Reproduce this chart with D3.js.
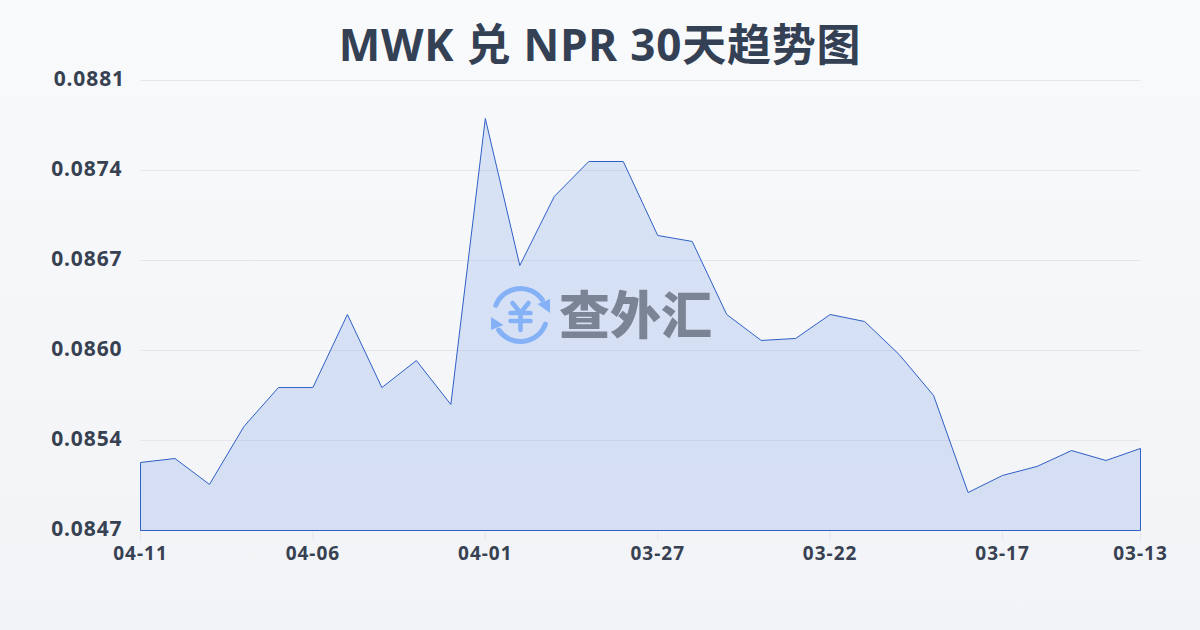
<!DOCTYPE html>
<html><head><meta charset="utf-8">
<script src="https://cdn.jsdelivr.net/npm/d3@7/dist/d3.min.js"></script>
<style>
html,body{margin:0;padding:0;width:1200px;height:630px;overflow:hidden}
svg{display:block}
</style></head><body>
<svg id="c" width="1200" height="630"></svg>
<script>
const titleText = "MWK 兑 NPR 30天趋势图";
const dates = ["04-11","04-10","04-09","04-08","04-07","04-06","04-05","04-04","04-03","04-02","04-01","03-31","03-30","03-29","03-28","03-27","03-26","03-25","03-24","03-23","03-22","03-21","03-20","03-19","03-18","03-17","03-16","03-15","03-14","03-13"];
const rates = [.085214,.085244,.085048,.085486,.08578,.08578,.086332,.08578,.085984,.085652,.087813,.086702,.087224,.087488,.087488,.086929,.086884,.086332,.086136,.086151,.086332,.086279,.08603,.08572,.084987,.085116,.085184,.085304,.085229,.08532];
const yTicks = [.0847,.08538,.08606,.08674,.08742,.0881];
const yTickLabels = ["0.0847","0.0854","0.0860","0.0867","0.0874","0.0881"];
const xTickLabels = ["04-11","04-06","04-01","03-27","03-22","03-17","03-13"];
const brand = "查外汇";

const svg = d3.select("#c");
const font = "'Noto Sans','Noto Sans CJK SC',sans-serif";
const defs = svg.append("defs");
const bg = defs.append("linearGradient").attr("id","bg").attr("x1",0).attr("y1",0).attr("x2",0).attr("y2",1);
bg.append("stop").attr("offset",0).attr("stop-color","#f8fafc");
bg.append("stop").attr("offset",1).attr("stop-color","#f1f3f6");
svg.append("rect").attr("width",1200).attr("height",630).attr("fill","url(#bg)");

const x = d3.scalePoint().domain(dates).range([140.5,1140.5]);
const y = d3.scaleLinear().domain([.0847,.0881]).range([530.5,80.5]);

svg.append("text").attr("x",600).attr("y",61).attr("text-anchor","middle")
  .attr("font-family",font).attr("font-size",44).attr("font-weight",700).attr("letter-spacing",0.8).attr("fill","#344054").text(titleText);

const yAxis = d3.axisLeft(y).offset(0).tickValues(yTicks).tickSize(-1000).tickFormat((d,i)=>yTickLabels[i]);
const gy = svg.append("g").attr("transform","translate(140.5,0)").call(yAxis);
gy.select(".domain").remove();
gy.selectAll("line").attr("stroke","#e5e7eb").attr("stroke-width",1);
gy.selectAll("text").attr("x",-18).attr("y",-2).attr("dy","0.36em").attr("dx",(d,i)=>i===5?2.5:0).attr("font-family",font).attr("font-size",21).attr("font-weight",700).attr("letter-spacing",0.9).attr("fill","#374151");

const xAxis = d3.axisBottom(x).offset(0).tickValues(xTickLabels).tickSize(10);
const gx = svg.append("g").attr("transform","translate(0,530.5)").call(xAxis);
gx.select(".domain").remove();
gx.selectAll("line").attr("stroke","#e5e7eb");
gx.selectAll("text").attr("y",23).attr("dy","0.36em").attr("font-family",font).attr("font-size",19).attr("font-weight",700).attr("letter-spacing",1).attr("fill","#374151");

const area = d3.area().x((d,i)=>x(dates[i])).y0(y(.0847)).y1(d=>y(d));
svg.append("path").datum(rates).attr("d",area).attr("fill","#2f66dd").attr("fill-opacity",.15).attr("stroke","none");
const line = d3.line().x((d,i)=>x(dates[i])).y(d=>y(d));
const outline = "M"+x(dates[0])+","+y(.0847)+"L"+line(rates).slice(1)+"L"+x(dates[29])+","+y(.0847)+"Z";
svg.append("path").attr("d",outline).attr("fill","none").attr("stroke","#2f5fc7").attr("stroke-width",1);

const wm = svg.append("g").attr("transform","translate(520.5,315)");
const arc = d3.arc().cornerRadius(2.4);
const blue = "#85b2f7";
wm.append("path").attr("d",arc({innerRadius:24,outerRadius:29,startAngle:-1.29,endAngle:1.05})).attr("fill",blue);
wm.append("path").attr("d",arc({innerRadius:24,outerRadius:29,startAngle:1.83,endAngle:4.2})).attr("fill",blue);
wm.append("path").attr("d","M29.5,-16 L29.5,-2 L17,-11 Z").attr("fill",blue);
wm.append("path").attr("d","M-29.5,2 L-29.5,15 L-17,10 Z").attr("fill",blue);
wm.append("path").attr("d","M-8,-12 L0,-2 L8,-12 M-10,-2 H10 M-10,6 H10 M0,-2 V15").attr("fill","none").attr("stroke",blue).attr("stroke-width",4.6).attr("stroke-linecap","round").attr("stroke-linejoin","round");
svg.append("text").attr("x",559).attr("y",334).attr("font-family","'Noto Sans CJK SC'").attr("font-size",51).attr("font-weight",900).attr("fill","#7b8494").text(brand);
</script>
</body></html>
